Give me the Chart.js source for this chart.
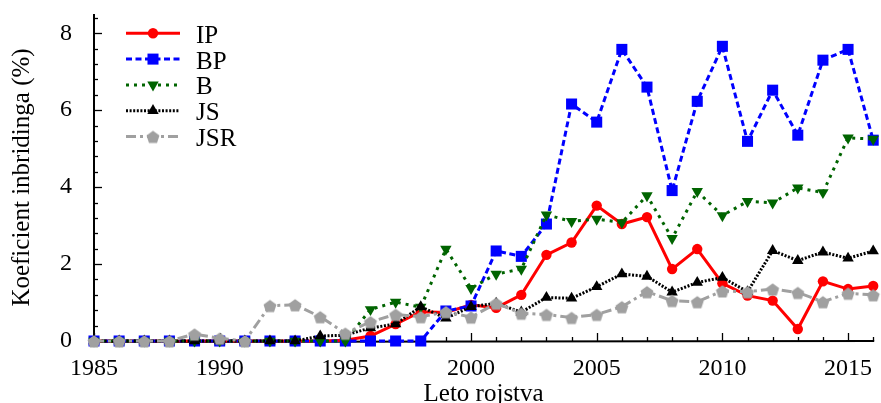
<!DOCTYPE html>
<html>
<head>
<meta charset="utf-8">
<script src="https://cdn.jsdelivr.net/npm/chart.js@4.4.1/dist/chart.umd.min.js"></script>
<style>
html,body{margin:0;padding:0;background:#fff;}
canvas{display:block;}
</style>
</head>
<body>
<canvas id="c" width="881" height="403"></canvas>
<script>
const years = [1985,1986,1987,1988,1989,1990,1991,1992,1993,1994,1995,1996,1997,1998,1999,2000,2001,2002,2003,2004,2005,2006,2007,2008,2009,2010,2011,2012,2013,2014,2015,2016];
const seriesNames = ['IP','BP','B','JS','JSR'];
const ip  = [0,0,0,0,0,0,0,0,0,0,0.02,0.13,0.44,0.76,0.74,0.94,0.86,1.20,2.24,2.56,3.52,3.04,3.22,1.87,2.39,1.50,1.18,1.05,0.31,1.55,1.35,1.43];
const bp  = [0,0,0,0,0,0,0,0,0,0,0,0,0,0,0.78,0.91,2.34,2.20,3.04,6.16,5.69,7.58,6.60,3.91,6.23,7.66,5.19,6.52,5.35,7.30,7.58,5.22];
const b   = [0,0,0,0,0,0,0,0,0,0,0,0.82,1.01,0.88,2.39,1.37,1.74,1.87,3.28,3.11,3.17,3.08,3.78,2.67,3.89,3.26,3.63,3.59,3.98,3.86,5.28,5.25];
const js  = [0,0,0,0,0,0,0,0,0,0.13,0.15,0.34,0.44,0.89,0.59,0.89,0.98,0.75,1.13,1.11,1.41,1.74,1.68,1.27,1.52,1.65,1.28,2.35,2.09,2.31,2.15,2.34];
const jsr = [0,0,0,0,0.18,0.07,0,0.92,0.94,0.63,0.20,0.50,0.69,0.63,0.76,0.62,0.98,0.72,0.69,0.61,0.69,0.89,1.28,1.05,1.02,1.30,1.28,1.35,1.26,1.02,1.24,1.20];
const xTickStep = 5;
const yTickStep = 2;
const yMinorStep = 0.4;

const FONT = "'Liberation Serif', 'DejaVu Serif', serif";

function makePentagon(r, color){
  const s = Math.ceil(r*2+2);
  const c = document.createElement('canvas');
  c.width = s; c.height = s;
  const g = c.getContext('2d');
  g.beginPath();
  for(let k=0;k<5;k++){
    const a = -Math.PI/2 + k*2*Math.PI/5;
    const px = s/2 + r*Math.cos(a), py = s/2 + 1 + r*Math.sin(a);
    if(k) g.lineTo(px,py); else g.moveTo(px,py);
  }
  g.closePath();
  g.fillStyle = color; g.fill();
  return c;
}
const pent = makePentagon(6.8, '#a0a0a0');

function pts(vals){ return years.map((yr,i)=>({x:yr,y:vals[i]})); }

const styles = [
  {color:'#ff0000', dash:[], pointStyle:'circle', radius:5.2, rotation:0},
  {color:'#0000ff', dash:[6,3.5], pointStyle:'rect', radius:7.8, rotation:0},
  {color:'#006400', dash:[3,5], pointStyle:'triangle', radius:6.6, rotation:180},
  {color:'#000000', dash:[2,1.6], pointStyle:'triangle', radius:6.6, rotation:0},
  {color:'#a0a0a0', dash:[10,4,3,4], pointStyle:pent, radius:7, rotation:0}
];
const allVals = [ip,bp,b,js,jsr];

const datasets = allVals.map((v,i)=>({
  label: seriesNames[i],
  data: pts(v),
  borderColor: styles[i].color,
  backgroundColor: styles[i].color,
  borderWidth: 3,
  borderDash: styles[i].dash,
  pointStyle: styles[i].pointStyle,
  pointRadius: styles[i].radius,
  pointRotation: styles[i].rotation,
  pointBorderWidth: 0,
  pointBackgroundColor: styles[i].color,
  pointBorderColor: styles[i].color,
  tension: 0,
  clip: false,
  order: 4 - i
}));

const axesPlugin = {
  id:'axesPlugin',
  beforeDatasetsDraw(chart){
    const ctx = chart.ctx, a = chart.chartArea;
    const xs = chart.scales.x, ys = chart.scales.y;
    ctx.save();
    ctx.strokeStyle = '#000';
    ctx.lineWidth = 1.3;
    for(let yr = xs.min; yr <= xs.max; yr++){
      const px = Math.round(xs.getPixelForValue(yr)) + 0.5;
      const major = (yr - xs.min) % xTickStep === 0;
      ctx.beginPath(); ctx.moveTo(px, a.bottom); ctx.lineTo(px, a.bottom - (major?8:4)); ctx.stroke();
    }
    const nMinor = Math.round((ys.max - ys.min)/yMinorStep);
    for(let k=0;k<=nMinor;k++){
      const v = ys.min + k*yMinorStep;
      const py = Math.round(ys.getPixelForValue(v)) + 0.5;
      const major = Math.abs(v/yTickStep - Math.round(v/yTickStep)) < 1e-6;
      ctx.beginPath(); ctx.moveTo(a.left, py); ctx.lineTo(a.left + (major?8:4), py); ctx.stroke();
    }
    ctx.lineWidth = 2;
    ctx.beginPath();
    ctx.moveTo(a.left, a.top); ctx.lineTo(a.left, a.bottom+1); ctx.lineTo(a.right+1, a.bottom);
    ctx.stroke();
    ctx.restore();
  }
};

const legendPlugin = {
  id:'legendPlugin',
  afterDraw(chart){
    const ctx = chart.ctx;
    const x0 = 126, x1 = 180, xm = 153, xt = 196;
    chart.data.datasets.forEach((ds,i)=>{
      const y = 33.3 + i*25.8;
      ctx.save();
      ctx.strokeStyle = ds.borderColor;
      ctx.lineWidth = ds.borderWidth;
      ctx.setLineDash(ds.borderDash);
      ctx.beginPath(); ctx.moveTo(x0,y); ctx.lineTo(x1,y); ctx.stroke();
      ctx.setLineDash([]);
      ctx.fillStyle = ds.pointBackgroundColor;
      ctx.strokeStyle = ds.pointBorderColor;
      Chart.helpers.drawPoint(ctx, {pointStyle: ds.pointStyle, rotation: ds.pointRotation, radius: ds.pointRadius, borderWidth: 0}, xm, y);
      ctx.fillStyle = '#000';
      ctx.font = "25px " + FONT;
      ctx.textBaseline = 'alphabetic';
      ctx.textAlign = 'left';
      ctx.fillText(ds.label, xt, y + 9.5);
      ctx.restore();
    });
  }
};

function noPad(s){ s.paddingTop = 0; s.paddingBottom = 0; s.paddingLeft = 0; s.paddingRight = 0; }

new Chart(document.getElementById('c'), {
  type:'line',
  data:{datasets},
  options:{
    responsive:false,
    animation:false,
    devicePixelRatio:1,
    layout:{padding:{top:14,right:5,left:0,bottom:0}},
    plugins:{legend:{display:false}, tooltip:{enabled:false}},
    scales:{
      x:{
        type:'linear', min:years[0], max:years[years.length-1],
        grid:{display:false}, border:{display:false},
        ticks:{stepSize:xTickStep, includeBounds:false, padding:5, color:'#000', font:{family:FONT, size:24}, maxRotation:0, autoSkip:false, callback:v=>String(v)},
        title:{display:true, text:'Leto rojstva', color:'#000', font:{family:FONT, size:25}, padding:{top:0,bottom:-6}},
        afterFit:(s)=>{ s.height = 62; noPad(s); }
      },
      y:{
        min:0, max:8.5,
        grid:{display:false}, border:{display:false},
        ticks:{stepSize:yTickStep, includeBounds:false, padding:14, color:'#000', font:{family:FONT, size:24}, callback:v=>String(v)},
        title:{display:true, text:'Koeficient inbridinga (%)', color:'#000', font:{family:FONT, size:25}, padding:{top:7,bottom:0}},
        afterFit:(s)=>{ s.width = 94; noPad(s); }
      }
    }
  },
  plugins:[axesPlugin, legendPlugin]
});
</script>
</body>
</html>
